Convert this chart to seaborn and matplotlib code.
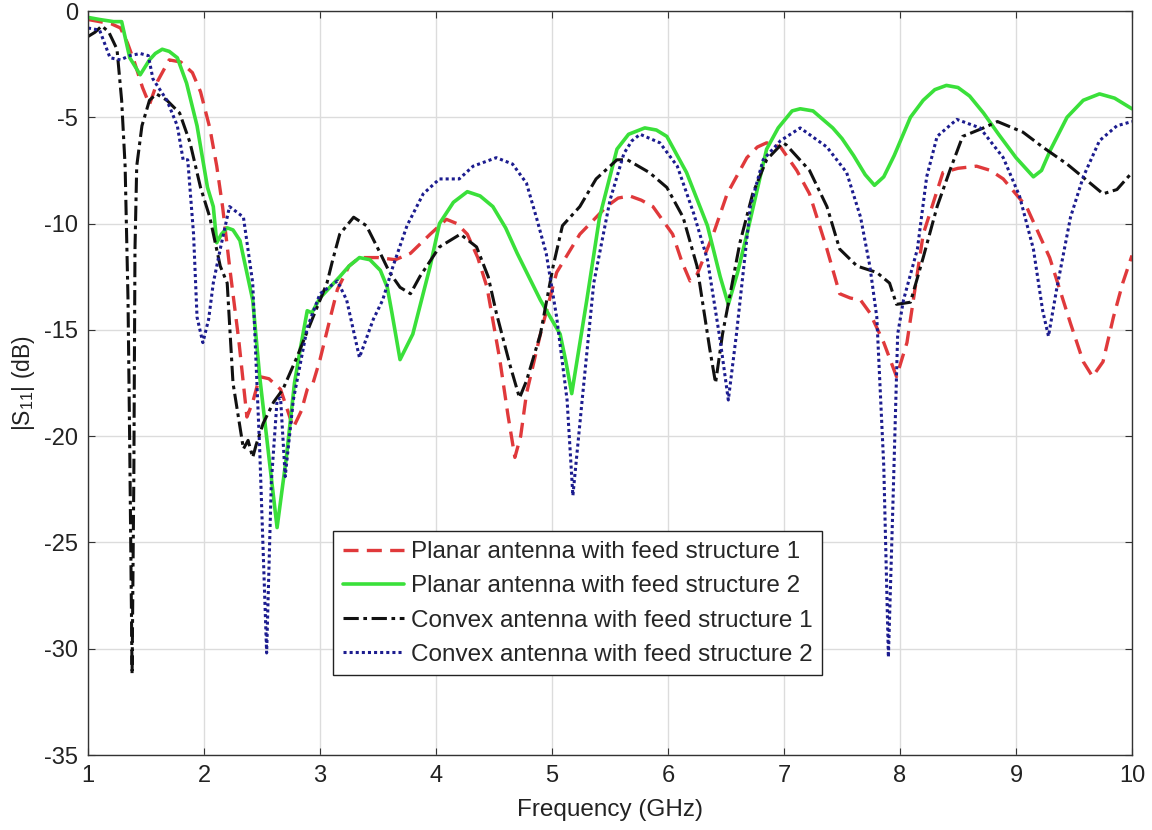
import matplotlib
matplotlib.use("Agg")
import matplotlib.pyplot as plt
import seaborn as sns
import pandas as pd

# ---------------- data ----------------
planar1_x = [1.0, 1.1, 1.2, 1.28, 1.34, 1.4, 1.47, 1.53, 1.6, 1.7,
             1.8, 1.9, 1.97, 2.05, 2.11, 2.16, 2.22, 2.3, 2.37, 2.42,
             2.48, 2.56, 2.66, 2.77, 2.84, 2.89, 2.94, 3.0, 3.09, 3.15,
             3.25, 3.34, 3.5, 3.65, 3.78, 3.95, 4.09, 4.18, 4.27, 4.36,
             4.44, 4.55, 4.62, 4.68, 4.73, 4.78, 4.9, 5.04, 5.24, 5.47,
             5.57, 5.67, 5.77, 5.87, 6.04, 6.12, 6.19, 6.25, 6.39, 6.51,
             6.68, 6.77, 6.85, 6.97, 7.11, 7.22, 7.37, 7.48, 7.57, 7.66,
             7.74, 7.86, 7.97, 8.06, 8.2, 8.37, 8.5, 8.66, 8.78, 8.89,
             9.09, 9.29, 9.47, 9.58, 9.66, 9.75, 9.84, 9.92, 10.0]
planar1_y = [-0.4, -0.5, -0.6, -0.8, -1.5, -2.4, -3.6, -4.4, -3.3, -2.3,
             -2.4, -2.9, -3.8, -5.5, -7.3, -9.2, -12.0, -15.5, -19.1, -18.4,
             -17.2, -17.3, -17.8, -19.6, -18.8, -17.8, -17.5, -16.4, -14.4, -13.1,
             -12.0, -11.6, -11.6, -11.7, -11.4, -10.5, -9.8, -10.0, -10.5, -11.6,
             -13.0, -16.4, -19.0, -21.0, -20.0, -18.0, -15.2, -12.3, -10.5, -9.2,
             -8.8, -8.7, -8.9, -9.2, -10.5, -11.8, -12.7, -12.4, -10.5, -8.6,
             -6.9, -6.4, -6.2, -6.4, -7.5, -8.6, -11.2, -13.3, -13.5, -13.6,
             -14.2, -15.6, -17.2, -15.6, -10.5, -7.6, -7.4, -7.3, -7.5, -7.9,
             -9.2, -11.6, -14.7, -16.5, -17.2, -16.5, -14.4, -12.8, -11.5]

planar2_x = [1.0, 1.1, 1.22, 1.29, 1.36, 1.45, 1.53, 1.58, 1.64, 1.7,
             1.77, 1.85, 1.94, 2.03, 2.08, 2.11, 2.15, 2.2, 2.25, 2.31,
             2.42, 2.48, 2.56, 2.63, 2.71, 2.78, 2.83, 2.89, 2.93, 3.0,
             3.17, 3.25, 3.34, 3.43, 3.52, 3.58, 3.62, 3.69, 3.8, 3.95,
             4.03, 4.15, 4.27, 4.38, 4.49, 4.6, 4.7, 4.9, 5.07, 5.12,
             5.17, 5.3, 5.41, 5.56, 5.66, 5.8, 5.9, 5.99, 6.16, 6.34,
             6.45, 6.52, 6.6, 6.68, 6.85, 6.95, 7.07, 7.14, 7.25, 7.42,
             7.5, 7.6, 7.7, 7.78, 7.86, 7.95, 8.09, 8.2, 8.3, 8.4,
             8.5, 8.6, 8.72, 8.85, 9.0, 9.15, 9.22, 9.3, 9.44, 9.58,
             9.72, 9.85, 10.0]
planar2_y = [-0.3, -0.4, -0.5, -0.5, -2.2, -3.0, -2.3, -2.0, -1.8, -1.9,
             -2.2, -3.4, -5.4, -8.3, -9.2, -10.9, -10.5, -10.2, -10.3, -10.8,
             -13.6, -17.2, -21.0, -24.3, -21.0, -17.5, -15.9, -14.1, -14.2, -13.5,
             -12.5, -12.0, -11.6, -11.7, -12.2, -13.0, -14.2, -16.4, -15.2, -12.0,
             -10.0, -9.0, -8.5, -8.7, -9.2, -10.2, -11.4, -13.6, -15.2, -16.5,
             -18.0, -13.6, -9.7, -6.5, -5.8, -5.5, -5.6, -5.9, -7.6, -10.1,
             -12.5, -13.8, -12.3, -10.5, -6.5, -5.5, -4.7, -4.6, -4.7, -5.5,
             -6.0, -6.8, -7.7, -8.2, -7.8, -6.8, -5.0, -4.2, -3.7, -3.5,
             -3.6, -4.0, -4.8, -5.8, -6.9, -7.8, -7.5, -6.5, -5.0, -4.2,
             -3.9, -4.1, -4.6]

convex1_x = [1.0, 1.06, 1.12, 1.18, 1.25, 1.29, 1.32, 1.345, 1.36, 1.38,
             1.395, 1.405, 1.42, 1.465, 1.53, 1.59, 1.68, 1.79, 1.88, 1.97,
             2.05, 2.14, 2.2, 2.25, 2.34, 2.38, 2.42, 2.45, 2.51, 2.6,
             2.68, 2.8, 2.94, 3.06, 3.11, 3.17, 3.29, 3.4, 3.52, 3.6,
             3.69, 3.78, 3.86, 4.03, 4.21, 4.35, 4.45, 4.52, 4.64, 4.72,
             4.78, 4.9, 5.01, 5.09, 5.24, 5.38, 5.56, 5.65, 5.84, 5.99,
             6.13, 6.25, 6.36, 6.41, 6.47, 6.62, 6.73, 6.85, 6.99, 7.02,
             7.22, 7.37, 7.48, 7.63, 7.8, 7.91, 7.97, 8.09, 8.2, 8.32,
             8.43, 8.54, 8.72, 8.84, 9.06, 9.23, 9.44, 9.64, 9.75, 9.87,
             10.0]
convex1_y = [-1.2, -1.0, -0.7, -1.0, -1.8, -4.2, -7.3, -13.6, -20.6, -31.2,
             -22.0, -11.2, -7.3, -5.4, -4.2, -3.9, -4.2, -4.8, -6.2, -8.3,
             -9.7, -12.0, -12.8, -17.5, -20.6, -20.2, -21.0, -20.4, -19.4, -18.4,
             -17.8, -16.3, -14.4, -12.8, -11.7, -10.5, -9.7, -10.1, -11.4, -12.3,
             -13.0, -13.3, -12.5, -11.1, -10.5, -11.1, -12.5, -14.2, -16.7, -18.2,
             -17.4, -15.2, -12.0, -10.1, -9.2, -7.9, -7.0, -7.0, -7.6, -8.3,
             -9.7, -12.0, -15.9, -17.5, -15.2, -10.9, -8.6, -7.0, -6.2, -6.3,
             -7.5, -9.2, -11.2, -12.0, -12.3, -12.8, -13.8, -13.7, -11.6, -9.2,
             -7.5, -5.9, -5.5, -5.2, -5.7, -6.4, -7.2, -8.1, -8.6, -8.4,
             -7.6]

convex2_x = [1.0, 1.1, 1.19, 1.28, 1.36, 1.45, 1.52, 1.56, 1.68, 1.77,
             1.82, 1.86, 1.91, 1.94, 1.99, 2.04, 2.08, 2.14, 2.22, 2.34,
             2.42, 2.48, 2.54, 2.58, 2.63, 2.66, 2.7, 2.77, 2.89, 3.0,
             3.15, 3.23, 3.34, 3.46, 3.54, 3.63, 3.75, 3.89, 4.03, 4.2,
             4.32, 4.52, 4.66, 4.78, 4.87, 4.95, 5.04, 5.13, 5.18, 5.26,
             5.36, 5.5, 5.62, 5.69, 5.76, 5.93, 6.08, 6.22, 6.34, 6.45,
             6.52, 6.59, 6.71, 6.82, 6.97, 7.14, 7.37, 7.54, 7.66, 7.74,
             7.8, 7.86, 7.9, 7.94, 7.98, 8.03, 8.15, 8.23, 8.32, 8.49,
             8.69, 8.89, 9.03, 9.15, 9.23, 9.28, 9.35, 9.47, 9.58, 9.72,
             9.87, 10.0]
convex2_y = [-0.8, -0.9, -2.2, -2.3, -2.1, -2.0, -2.1, -3.2, -4.2, -5.4,
             -7.0, -7.0, -10.5, -14.4, -15.6, -14.5, -12.8, -11.2, -9.2, -9.7,
             -12.8, -20.6, -30.2, -22.2, -18.3, -18.2, -21.9, -18.3, -14.9, -13.3,
             -12.7, -13.6, -16.3, -14.5, -13.6, -12.0, -10.1, -8.6, -7.9, -7.9,
             -7.3, -6.9, -7.2, -8.1, -9.8, -11.4, -14.4, -18.3, -22.8, -18.3,
             -12.8, -8.9, -6.7, -6.1, -5.8, -6.2, -7.3, -9.5, -11.7, -15.5,
             -18.3, -15.2, -9.2, -7.0, -6.1, -5.5, -6.4, -7.6, -9.7, -12.0,
             -14.4, -21.4, -30.4, -23.0, -15.2, -13.6, -11.2, -7.8, -5.9, -5.1,
             -5.5, -6.9, -8.7, -11.2, -14.1, -15.3, -13.1, -9.7, -7.8, -6.1,
             -5.4, -5.2]

labels = ["Planar antenna with feed structure 1",
          "Planar antenna with feed structure 2",
          "Convex antenna with feed structure 1",
          "Convex antenna with feed structure 2"]
x_ticks = [1, 2, 3, 4, 5, 6, 7, 8, 9, 10]
y_ticks = [0, -5, -10, -15, -20, -25, -30, -35]

# ---------------- style ----------------
sns.set_theme(style="whitegrid")
plt.rcParams['font.family'] = ['Liberation Sans', 'DejaVu Sans']
plt.rcParams['mathtext.fontset'] = 'custom'
plt.rcParams['mathtext.rm'] = 'Liberation Sans'
plt.rcParams['mathtext.it'] = 'Liberation Sans'

fig = plt.figure(figsize=(11.52, 8.30), dpi=100)
ax = fig.add_axes([88/1152, 1-755/830, (1132-88)/1152, (755-11)/830])

series = [
    (planar1_x, planar1_y, "#e0393b", (0, (4.5, 2.5)), 2.4),
    (planar2_x, planar2_y, "#3ae03a", "-", 2.6),
    (convex1_x, convex1_y, "#111111", (0, (5, 1.5, 1.2, 1.5)), 2.2),
    (convex2_x, convex2_y, "#1c1c8f", (0, (1, 1)), 2.2),
]
for (xs, ys, col, ls, lw), lab in zip(series, labels):
    df = pd.DataFrame({"f": xs, "s": ys})
    sns.lineplot(data=df, x="f", y="s", color=col, linestyle=ls, linewidth=lw,
                 label=lab, ax=ax, estimator=None, sort=False)

ax.set_xlim(1, 10)
ax.set_ylim(-35, 0)
ax.set_xticks(x_ticks)
ax.set_yticks(y_ticks)
ax.set_xticklabels([str(t) for t in x_ticks])
ax.set_yticklabels([str(t) for t in y_ticks])
ax.set_facecolor("white")
ax.grid(True, color="#dcdcdc", linewidth=1.0)
for sp in ax.spines.values():
    sp.set_color("#333333")
    sp.set_linewidth(1.0)
ax.tick_params(direction="in", length=5, width=0.8, color="#333333",
               labelsize=17, top=True, right=True, bottom=True, left=True,
               labelcolor="#222222", pad=7)

ax.set_xlabel("Frequency (GHz)", fontsize=17.5, color="#222222", labelpad=9)
ax.set_ylabel(r"|S$_{\mathrm{11}}$| (dB)", fontsize=16.5, color="#222222", labelpad=5)

leg = ax.legend(loc="lower left", bbox_to_anchor=(0.235, 0.107), fontsize=17.5,
                frameon=True, fancybox=False, framealpha=1, edgecolor="#222222",
                handlelength=2.5, handletextpad=0.3, labelspacing=0.5,
                borderpad=0.4, borderaxespad=0)
leg.get_frame().set_linewidth(1.0)

fig.savefig("out.png", dpi=100)
